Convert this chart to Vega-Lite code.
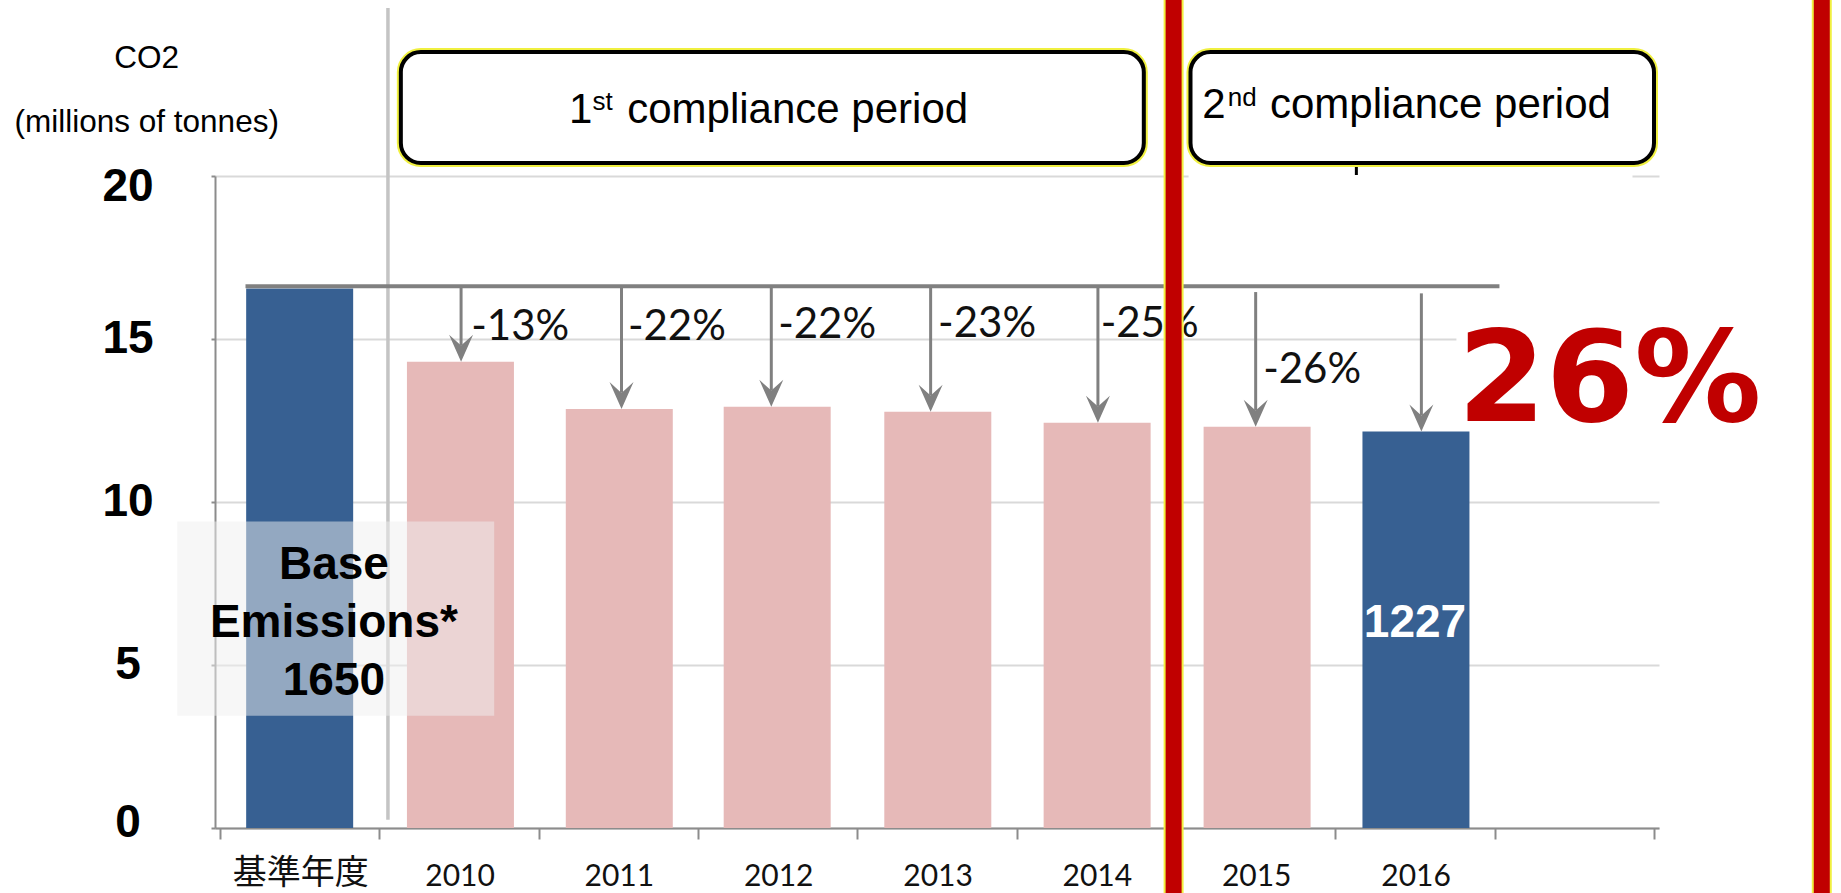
{
  "$schema": "https://vega.github.io/schema/vega-lite/v6.json",
  "width": 1444,
  "height": 652,
  "autosize": "none",
  "padding": {"left": 215, "top": 176, "right": 182, "bottom": 65},
  "background": "#ffffff",
  "config": {"view": {"stroke": null}},
  "encoding": {
    "x": {
      "field": "x", "type": "quantitative",
      "scale": {"domain": [0, 9], "nice": false, "zero": false},
      "axis": {
        "values": [0, 1, 2, 3, 4, 5, 6, 7, 8, 9],
        "labelExpr": "['基準年度','2010','2011','2012','2013','2014','2015','2016',''][datum.value]",
        "labelOffset": 80.2,
        "labelFont": "Lato, Noto Sans CJK JP",
        "labelFontSize": {"condition": {"test": "datum.value == 0", "value": 34}, "value": 30},
        "labelPadding": {"condition": {"test": "datum.value == 0", "value": 17}, "value": 22},
        "labelColor": "#111111",
        "labelFlush": false,
        "labelOverlap": false,
        "labelBound": false,
        "tickSize": 11,
        "tickColor": "#8c8c8c",
        "tickWidth": 2,
        "domainColor": "#8c8c8c",
        "domainWidth": 2,
        "grid": false,
        "title": null
      }
    },
    "y": {
      "field": "y", "type": "quantitative",
      "scale": {"domain": [0, 20], "nice": false, "zero": false},
      "axis": {
        "values": [0, 5, 10, 15, 20],
        "grid": true,
        "gridColor": "#d9d9d9",
        "gridWidth": 2,
        "domainColor": "#8c8c8c",
        "domainWidth": 2,
        "tickSize": 4,
        "tickColor": "#8c8c8c",
        "tickWidth": 2,
        "labelFont": "Liberation Sans",
        "labelFontWeight": "bold",
        "labelFontSize": 46,
        "labelColor": "#000000",
        "labelAlign": "center",
        "labelBaseline": "middle",
        "labelPadding": 83.5,
        "labelOffset": {"condition": [{"test": "datum.value == 20", "value": 10}, {"test": "datum.value == 0", "value": -6}], "value": -1},
        "labelFlush": false,
        "labelOverlap": false,
        "labelBound": false,
        "title": null
      }
    }
  },
  "layer": [
    {
      "data": {"values": [
        {"label": "基準年度", "x": 0.5, "y": 16.55, "group": "highlight"},
        {"label": "2010", "x": 1.509, "y": 14.3, "group": "normal"},
        {"label": "2011", "x": 2.506, "y": 12.85, "group": "normal"},
        {"label": "2012", "x": 3.497, "y": 12.92, "group": "normal"},
        {"label": "2013", "x": 4.505, "y": 12.77, "group": "normal"},
        {"label": "2014", "x": 5.505, "y": 12.43, "group": "normal"},
        {"label": "2015", "x": 6.509, "y": 12.31, "group": "normal"},
        {"label": "2016", "x": 7.506, "y": 12.16, "group": "highlight"}
      ]},
      "mark": {"type": "bar", "width": 107, "orient": "vertical"},
      "encoding": {
        "color": {"field": "group", "type": "nominal", "scale": {"domain": ["highlight", "normal"], "range": ["#376092", "#E6B9B8"]}, "legend": null}
      }
    },
    {
      "data": {"values": [
        {"x": 6.079, "x2": 8.865, "y": 19.88, "y2": 20.12},
        {"x": 7.76, "x2": 9.05, "y": 14.88, "y2": 15.12}
      ]},
      "mark": {"type": "rect", "fill": "#ffffff"},
      "encoding": {"x2": {"field": "x2"}, "y2": {"field": "y2"}}
    },
    {
      "data": {"values": [{"x": 1.054, "y": 0.25, "y2": 25.15}]},
      "mark": {"type": "rule", "color": "#c4c4c4", "strokeWidth": 3.5},
      "encoding": {"y2": {"field": "y2"}}
    },
    {
      "data": {"values": [{"x": 0.16, "x2": 8.03, "y": 16.62}]},
      "mark": {"type": "rule", "color": "#808080", "strokeWidth": 4},
      "encoding": {"x2": {"field": "x2"}}
    },
    {
      "data": {"values": [
        {"x": 1.513, "y": 16.62, "y2": 14.8},
        {"x": 2.52, "y": 16.62, "y2": 13.35},
        {"x": 3.46, "y": 16.62, "y2": 13.42},
        {"x": 4.46, "y": 16.62, "y2": 13.27},
        {"x": 5.51, "y": 16.62, "y2": 12.93},
        {"x": 6.5, "y": 16.44, "y2": 12.81},
        {"x": 7.54, "y": 16.4, "y2": 12.66}
      ]},
      "mark": {"type": "rule", "color": "#808080", "strokeWidth": 3},
      "encoding": {"y2": {"field": "y2"}}
    },
    {
      "data": {"values": [
        {"x": 1.513, "y": 14.3},
        {"x": 2.52, "y": 12.85},
        {"x": 3.46, "y": 12.92},
        {"x": 4.46, "y": 12.77},
        {"x": 5.51, "y": 12.43},
        {"x": 6.5, "y": 12.31},
        {"x": 7.54, "y": 12.16}
      ]},
      "mark": {"type": "point", "shape": "M0,0 L-1,-2.25 L0,-1.35 L1,-2.25 Z", "size": 576, "filled": true, "color": "#808080", "opacity": 1, "strokeWidth": 0}
    },
    {
      "data": {"values": [
        {"x": 1.577, "y": 15.36, "t": "-13%"},
        {"x": 2.56, "y": 15.36, "t": "-22%"},
        {"x": 3.503, "y": 15.42, "t": "-22%"},
        {"x": 4.507, "y": 15.45, "t": "-23%"},
        {"x": 5.527, "y": 15.45, "t": "-25%"},
        {"x": 6.547, "y": 14.04, "t": "-26%"}
      ]},
      "mark": {"type": "text", "align": "left", "baseline": "middle", "font": "Lato", "fontSize": 42, "color": "#111111"},
      "encoding": {"text": {"field": "t"}}
    },
    {
      "data": {"values": [{"x": 7.132, "y": 20.03, "y2": 20.34}]},
      "mark": {"type": "rule", "color": "#000000", "strokeWidth": 3},
      "encoding": {"y2": {"field": "y2"}}
    },
    {
      "data": {"values": [
        {"x": 1.135, "x2": 5.798, "y": 20.4, "y2": 23.8},
        {"x": 6.091, "x2": 9.0, "y": 20.4, "y2": 23.8}
      ]},
      "mark": {"type": "rect", "fill": "#ffffff", "stroke": "#f0f040", "strokeWidth": 8, "cornerRadius": 20},
      "encoding": {"x2": {"field": "x2"}, "y2": {"field": "y2"}}
    },
    {
      "data": {"values": [
        {"x": 1.135, "x2": 5.798, "y": 20.4, "y2": 23.8},
        {"x": 6.091, "x2": 9.0, "y": 20.4, "y2": 23.8}
      ]},
      "mark": {"type": "rect", "fill": "#ffffff", "stroke": "#000000", "strokeWidth": 4, "cornerRadius": 20},
      "encoding": {"x2": {"field": "x2"}, "y2": {"field": "y2"}}
    },
    {
      "data": {"values": [
        {"x": 2.19, "y": 21.626, "t": "1"},
        {"x": 2.556, "y": 21.626, "t": "compliance period"},
        {"x": 6.165, "y": 21.78, "t": "2"},
        {"x": 6.59, "y": 21.78, "t": "compliance period"}
      ]},
      "mark": {"type": "text", "align": "left", "baseline": "alphabetic", "font": "Liberation Sans", "fontSize": 42, "color": "#000000"},
      "encoding": {"text": {"field": "t"}}
    },
    {
      "data": {"values": [
        {"x": 2.338, "y": 22.02, "t": "st"},
        {"x": 6.325, "y": 22.15, "t": "nd"}
      ]},
      "mark": {"type": "text", "align": "left", "baseline": "alphabetic", "font": "Liberation Sans", "fontSize": 26, "color": "#000000"},
      "encoding": {"text": {"field": "t"}}
    },
    {
      "data": {"values": [{"x": -0.268, "x2": 1.721, "y": 3.44, "y2": 9.4}]},
      "mark": {"type": "rect", "fill": "#efefef", "opacity": 0.5},
      "encoding": {"x2": {"field": "x2"}, "y2": {"field": "y2"}}
    },
    {
      "data": {"values": [{"x": 0.715, "y": 8.07, "t": "Base\nEmissions*\n1650"}]},
      "mark": {"type": "text", "align": "center", "baseline": "middle", "lineBreak": "\n", "lineHeight": 58, "font": "Liberation Sans", "fontWeight": "bold", "fontSize": 46, "color": "#000000"},
      "encoding": {"text": {"field": "t"}}
    },
    {
      "data": {"values": [{"x": 7.5, "y": 6.3, "t": "1227"}]},
      "mark": {"type": "text", "align": "center", "baseline": "middle", "font": "Liberation Sans", "fontWeight": "bold", "fontSize": 46, "color": "#ffffff"},
      "encoding": {"text": {"field": "t"}}
    },
    {
      "data": {"values": [{"x": 8.72, "y": 12.49, "t": "26%"}]},
      "mark": {"type": "text", "align": "center", "baseline": "alphabetic", "font": "DejaVu Sans", "fontWeight": "bold", "fontSize": 127, "color": "#C00000"},
      "encoding": {"text": {"field": "t"}}
    },
    {
      "data": {"values": [
        {"x": -0.46, "y": 23.6, "t": "CO2"},
        {"x": -0.46, "y": 21.63, "t": "(millions of tonnes)"}
      ]},
      "mark": {"type": "text", "align": "center", "baseline": "middle", "font": "Liberation Sans", "fontSize": 31.5, "color": "#000000"},
      "encoding": {"text": {"field": "t"}}
    },
    {
      "data": {"values": [
        {"x": 5.985, "y": -2.1, "y2": 25.5},
        {"x": 10.053, "y": -2.1, "y2": 25.5}
      ]},
      "mark": {"type": "rule", "color": "#f0f040", "strokeWidth": 20},
      "encoding": {"y2": {"field": "y2"}}
    },
    {
      "data": {"values": [
        {"x": 5.985, "y": -2.1, "y2": 25.5},
        {"x": 10.053, "y": -2.1, "y2": 25.5}
      ]},
      "mark": {"type": "rule", "color": "#C00000", "strokeWidth": 16},
      "encoding": {"y2": {"field": "y2"}}
    }
  ]
}
